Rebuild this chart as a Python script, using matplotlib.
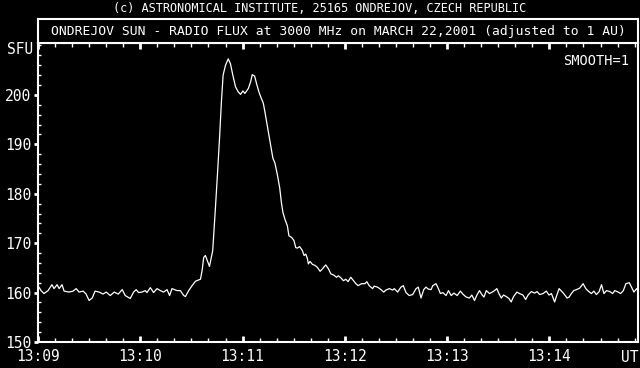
import numpy as np
import matplotlib
matplotlib.use("Agg")
import matplotlib.pyplot as plt
from matplotlib.ticker import MultipleLocator

# seconds after 13:09:00 UT
t_sec = [0, 1.8, 3.5, 5.9, 8.2, 9.4, 11.2, 12.4, 14.1, 15.3, 18.2, 20.6, 22.4, 24.1,
         26.5, 28.2, 30.0, 31.8, 33.5, 35.9, 38.2, 40.0, 42.4, 44.7, 47.1, 49.4, 51.2,
         54.1, 56.1, 57.6, 59.0, 61.0, 62.9, 63.9, 65.9, 67.8, 69.8, 71.8, 73.7, 75.7,
         77.2, 78.6, 81.6, 83.5, 85.5, 86.5, 88.4, 90.4, 92.4, 95.3, 96.3, 97.2,
         98.2, 100.6, 102.5, 104.1, 105.5, 106.6, 107.6, 108.6, 110.0, 111.6, 112.9,
         114.3, 115.9, 117.5, 118.8, 120.2, 121.4, 123.4, 124.7, 125.7, 127.1, 128.2,
         129.6, 131.0, 132.2, 133.1,
         136.1, 137.8, 139.0, 140.4, 141.8, 142.8, 143.7, 144.9, 146.3, 147.2, 148.2,
         149.2, 150.2, 151.2, 152.2, 153.5, 155.1, 156.1, 157.1, 158.1, 158.6, 159.6,
         161.0, 162.5, 163.9, 165.5, 166.9, 168.8, 170.4, 171.8, 173.7, 175.1, 176.2,
         177.6, 179.2, 180.6, 181.9, 183.5, 185.1, 186.5, 187.8, 189.8, 191.8, 192.9,
         194.3, 196.3, 197.2, 199.2, 201.2, 202.8, 204.1, 206.1, 208.1, 209.0, 211.0,
         212.9, 214.3, 215.9, 217.8, 219.8, 221.8, 223.1, 224.7, 226.3, 227.6, 229.0,
         230.6, 231.6, 233.5, 234.5, 236.1, 237.5, 239.4, 240.8, 242.4, 244.0, 245.9,
         247.8, 249.2, 251.2, 253.1, 254.5, 256.1, 257.5, 259.0, 260.4, 261.6, 263.0,
         264.9, 266.5, 267.8, 269.2, 270.4, 271.8, 273.1, 274.7, 276.3, 277.6, 279.0,
         281.0, 282.5, 284.5, 286.1, 287.5, 289.4, 291.4, 292.8, 294.3, 296.3, 298.2,
         299.8, 301.2, 303.1, 304.1, 305.7, 307.1, 308.4, 310.4, 311.6, 312.9, 314.3,
         315.9, 317.8, 319.8, 321.4, 322.8, 324.7, 326.1, 327.6, 329.2, 330.6, 332.0,
         333.5, 335.5, 337.1, 338.4, 340.4, 341.8, 343.4, 344.9, 346.9, 348.2, 349.6,
         351.2, 352.8]

flux = [161.4, 160.4, 159.8, 160.4, 161.6, 160.8, 161.6, 160.8, 161.6, 160.3, 160.1,
        160.3, 160.8, 160.1, 160.3, 159.7, 158.4, 158.9, 160.3, 160.1, 159.7, 160.1,
        159.4, 160.1, 159.7, 160.6, 159.4,
        158.8, 160.1, 160.6, 160.0, 160.1, 160.4, 160.0, 161.0, 160.0, 160.8, 160.4,
        160.1, 160.6, 159.4, 160.8, 160.4, 160.4, 159.4, 159.2, 160.4, 161.4, 162.3,
        162.7, 164.5, 167.1,
        167.5, 165.3, 168.5, 177.2, 185.2, 191.9, 198.6, 204.0, 206.0, 207.3, 206.3,
        204.0, 201.6, 200.6, 200.1, 200.8, 200.3, 201.3, 202.6, 204.1, 203.8, 202.3,
        200.6, 199.3, 198.3, 196.6,
        190.6, 187.2, 186.2, 183.9, 181.2, 178.2, 176.2, 174.8, 173.5, 171.5, 171.3,
        171.0, 170.5, 169.1, 169.0, 169.3, 168.5, 167.5, 167.8, 166.8, 165.8, 166.3,
        165.7, 165.5, 165.1, 164.3, 164.8, 165.6, 164.8, 163.8, 163.5, 163.1, 163.4,
        163.0, 162.4, 162.7, 162.2, 163.1, 162.4, 161.8, 161.4, 161.8, 161.8, 162.2,
        161.4, 160.8, 161.3, 161.1, 160.6, 160.1, 160.5, 160.8, 160.5, 160.8, 160.1,
        161.1, 161.4, 160.0, 159.4, 159.6, 160.8, 161.1, 158.9, 160.6, 161.1, 160.7,
        160.6, 161.4, 161.8, 161.1, 159.8, 160.0, 159.4, 160.4, 159.4, 159.9, 159.4,
        160.3, 159.7, 159.1, 158.9, 159.5, 158.4, 159.5, 160.4, 159.6, 159.1, 160.4,
        159.8, 160.1, 160.4, 160.8, 159.8, 158.9, 159.5, 159.2, 158.8, 158.1, 159.2,
        160.1, 159.8, 159.5, 158.6, 159.5, 160.2, 159.9, 160.2, 159.6, 159.8, 160.3,
        159.5, 159.8, 158.1, 159.2, 160.8, 160.3, 159.8, 158.9, 159.1, 159.8, 160.4,
        160.6, 160.9, 161.8, 160.8, 160.3, 159.8, 160.3, 159.6, 160.2, 161.6, 159.8,
        160.4, 160.2, 159.8, 160.4, 160.1, 159.8, 160.4, 161.8, 162.0, 161.1, 160.1,
        160.8, 159.8]

xtick_pos = [0, 60, 120, 180, 240, 300]
xtick_lab = ["13:09", "13:10", "13:11", "13:12", "13:13", "13:14"]
ytick_pos = [150, 160, 170, 180, 190, 200]

FONT = "DejaVu Sans Mono"
FS = 9.4      # title box
FS_TICK = 10.5
FS_HEAD = 8.6

fig = plt.figure(figsize=(6.4, 3.68), dpi=100, facecolor="black")

ax = fig.add_axes([38 / 640, 26 / 368, 600 / 640, 299 / 368], facecolor="black")
ax.plot(t_sec, flux, color="white", lw=0.9)
ax.set_xlim(0, 352)
ax.set_ylim(150, 210.5)

for s in ax.spines.values():
    s.set_color("white")
    s.set_linewidth(1.5)

ax.set_xticks(xtick_pos)
ax.set_xticklabels(xtick_lab, fontfamily=FONT, fontsize=FS_TICK, color="white")
ax.set_yticks(ytick_pos)
ax.set_yticklabels([str(v) for v in ytick_pos], fontfamily=FONT, fontsize=FS_TICK,
                   color="white")
ax.xaxis.set_minor_locator(MultipleLocator(10))
ax.yaxis.set_minor_locator(MultipleLocator(2))
ax.tick_params(axis="x", which="major", direction="in", length=4, width=2,
               color="white", top=True, pad=5)
ax.tick_params(axis="x", which="minor", direction="in", length=3, width=1,
               color="white", top=True)
ax.tick_params(axis="y", which="major", direction="out", length=3, width=2,
               color="white", pad=2)
ax.tick_params(axis="y", which="minor", direction="in", length=2, width=1,
               color="white")

ax.text(0.985, 0.94, "SMOOTH=1", transform=ax.transAxes, ha="right", va="center",
        color="white", fontfamily=FONT, fontsize=9.8)

# title box
tb = fig.add_axes([38 / 640, 325 / 368, 600 / 640, 24 / 368], facecolor="black")
tb.set_xticks([])
tb.set_yticks([])
for s in tb.spines.values():
    s.set_color("white")
    s.set_linewidth(1.5)
tb.text(0.5, 0.5, "ONDREJOV SUN - RADIO FLUX at 3000 MHz on MARCH 22,2001 (adjusted to 1 AU)",
        ha="center", va="center", color="white", fontfamily=FONT, fontsize=FS)

fig.text(0.5, 1 - 8 / 368, "(c) ASTRONOMICAL INSTITUTE, 25165 ONDREJOV, CZECH REPUBLIC",
         ha="center", va="center", color="white", fontfamily=FONT, fontsize=FS_HEAD)
fig.text(33 / 640, 1 - 50 / 368, "SFU", ha="right", va="center", color="white",
         fontfamily=FONT, fontsize=FS_TICK)
fig.text(638 / 640, 1 - 357 / 368, "UT", ha="right", va="center", color="white",
         fontfamily=FONT, fontsize=FS_TICK)

fig.savefig("out.png", dpi=100, facecolor="black")
